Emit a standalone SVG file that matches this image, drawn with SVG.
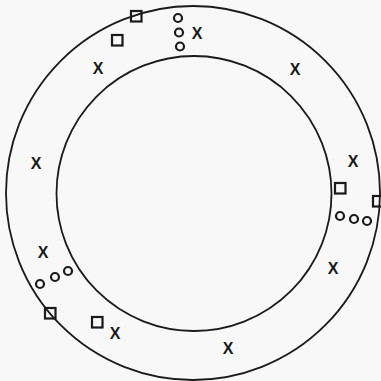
<svg xmlns="http://www.w3.org/2000/svg" width="381" height="381" viewBox="0 0 381 381">
<style>
.ring{fill:none;stroke:#1a1a1a;stroke-width:1.8}
.sq{fill:none;stroke:#1a1a1a;stroke-width:2.2}
.ci{fill:none;stroke:#1a1a1a;stroke-width:2.2}
.x{font-family:"Liberation Sans",Arial,sans-serif;font-size:16px;font-weight:bold;fill:#1a1a1a;text-anchor:middle;dominant-baseline:central}
</style>
<rect width="381" height="381" fill="#f8f8f8"/>
<g id="rings">
<circle class="ring" cx="193" cy="193" r="187"/>
<circle class="ring" cx="194" cy="193.5" r="137.5"/>
</g>
<g id="squares">
<rect class="sq" x="131" y="11" width="10.5" height="10.5"/>
<rect class="sq" x="112" y="35" width="10.5" height="10.5"/>
<rect class="sq" x="335" y="183" width="10.5" height="10.5"/>
<rect class="sq" x="373" y="196" width="10.5" height="10.5"/>
<rect class="sq" x="45" y="308" width="10.5" height="10.5"/>
<rect class="sq" x="92" y="317" width="10.5" height="10.5"/>
</g>
<g id="circles">
<circle class="ci" cx="178" cy="18" r="4"/>
<circle class="ci" cx="179" cy="32.5" r="4"/>
<circle class="ci" cx="180" cy="46.5" r="4"/>
<circle class="ci" cx="340" cy="216" r="4"/>
<circle class="ci" cx="354" cy="219" r="4"/>
<circle class="ci" cx="367" cy="221" r="4"/>
<circle class="ci" cx="40" cy="284" r="4"/>
<circle class="ci" cx="55" cy="277" r="4"/>
<circle class="ci" cx="68" cy="271" r="4"/>
</g>
<g id="crosses">
<text class="x" x="197" y="33">X</text>
<text class="x" x="98" y="68">X</text>
<text class="x" x="295" y="69">X</text>
<text class="x" x="36" y="163">X</text>
<text class="x" x="353" y="161">X</text>
<text class="x" x="43" y="252">X</text>
<text class="x" x="333" y="268">X</text>
<text class="x" x="115" y="333">X</text>
<text class="x" x="228" y="348">X</text>
</g>
</svg>
